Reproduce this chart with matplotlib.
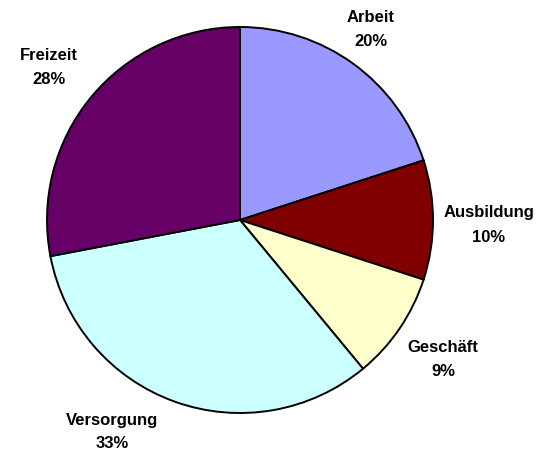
import matplotlib.pyplot as plt

categories = ['Arbeit', 'Ausbildung', 'Geschäft', 'Versorgung', 'Freizeit']
shares = [20, 10, 9, 33, 28]
colors = ['#9999FF', '#800000', '#FFFFCC', '#CCFFFF', '#660066']

W, H = 543, 454
# label anchor positions in image pixels (name line centre)
label_pos = [(371, 17), (489, 213), (443, 348), (112, 420), (49, 56)]

fig = plt.figure(figsize=(W / 100, H / 100), dpi=100)
ax = fig.add_axes([0, 0, 1, 1])
ax.set_xlim(0, W)
ax.set_ylim(0, H)
ax.set_aspect('equal')
ax.axis('off')

ax.pie(shares, colors=colors, startangle=90, counterclock=False,
       center=(240, H - 220), radius=193,
       wedgeprops=dict(edgecolor='black', linewidth=1.4))
ax.set_xlim(0, W)
ax.set_ylim(0, H)

for name, val, (x, y) in zip(categories, shares, label_pos):
    ax.text(x, H - y, name, ha='center', va='center', fontsize=12,
            fontweight='bold', family='Liberation Sans')
    ax.text(x, H - y - 24, f'{val}%', ha='center', va='center', fontsize=12,
            fontweight='bold', family='Liberation Sans')

fig.savefig('out.png', dpi=100)
